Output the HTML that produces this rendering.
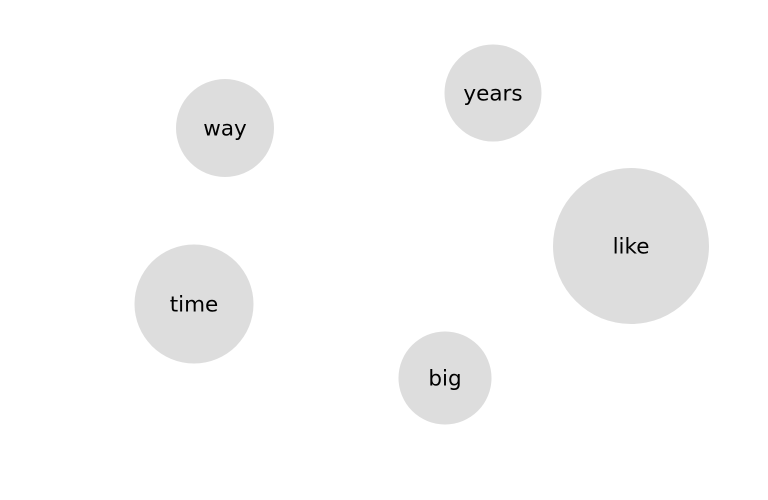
<!DOCTYPE html>
<html><head><style>html,body{margin:0;padding:0;background:#fff;}</style></head>
<body>
<svg width="768" height="500" xmlns="http://www.w3.org/2000/svg" style="display:block">
<g fill="#dddddd">
<circle cx="225" cy="128" r="49"/>
<circle cx="493" cy="93" r="48.5"/>
<circle cx="631" cy="246" r="78"/>
<circle cx="194" cy="304" r="59.5"/>
<circle cx="445" cy="378" r="46.5"/>
</g>
<g font-family="DejaVu Sans, sans-serif" font-size="21.5" fill="#000" text-anchor="middle" dominant-baseline="central">
<text x="225" y="129">way</text>
<text x="493" y="94">years</text>
<text x="631" y="247">like</text>
<text x="194" y="305">time</text>
<text x="445" y="379">big</text>
</g>
</svg>
</body></html>
